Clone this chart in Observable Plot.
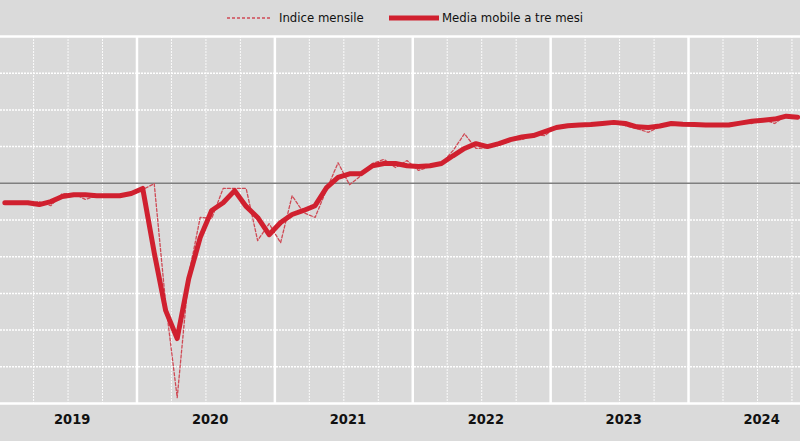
<!DOCTYPE html>
<html><head><meta charset="utf-8">
<script src="https://cdn.jsdelivr.net/npm/d3@7"></script>
<script src="https://cdn.jsdelivr.net/npm/@observablehq/plot@0.6"></script>
<style>
html,body{margin:0;padding:0;background:#dadada;width:800px;height:441px;overflow:hidden;font-family:"Liberation Sans Narrow","Arial Narrow","DejaVu Sans Condensed",sans-serif;}
#legend{height:35px;position:relative;font-size:13px;color:#111;}
#legend .item{position:absolute;top:0;height:35px;display:flex;align-items:center;}
#legend svg{display:block;}
#chart svg{display:block;}
</style></head><body>
<div id="legend">
  <div class="item" style="left:227px"><svg width="44" height="8"><line x1="0" y1="4" x2="44" y2="4" stroke="#cf4a55" stroke-width="1.3" stroke-dasharray="3,2"/></svg><span style="margin-left:8px">Indice mensile</span></div>
  <div class="item" style="left:389px"><svg width="50" height="8"><line x1="0" y1="4" x2="50" y2="4" stroke="#d0202f" stroke-width="5"/></svg><span style="margin-left:3px">Media mobile a tre mesi</span></div>
</div>
<div id="chart"></div>
<script>
// Categories
const startYear = 2019;
const years = [2019, 2020, 2021, 2022, 2023, 2024];
const seriesNames = ["Indice mensile", "Media mobile a tre mesi"];
// Monthly index (Jan 2019 .. Oct 2024), base = 100
const monthly = [
  94.7, 94.7, 94.5, 95.0, 93.9, 97.2, 97.2, 95.6, 96.6, 96.6, 96.9, 96.9,
  98.3, 99.9, 67.2, 41.6, 74.9, 90.7, 90.4, 98.6, 98.6, 98.6, 84.4, 89.0,
  83.8, 96.6, 92.0, 90.7, 98.3, 105.6, 99.6, 102.1, 105.4, 106.5, 104.3, 106.2,
  103.5, 104.6, 105.4, 108.9, 113.5, 109.5, 109.7, 110.8, 111.9, 111.9, 113.3, 113.0,
  115.5, 115.7, 116.0, 116.3, 116.5, 116.5, 115.7, 114.9, 113.9, 115.4, 116.4, 116.0,
  116.0, 115.9, 116.0, 116.3, 116.5, 116.3, 117.4, 116.3, 118.6, 117.9
];
// Three-month moving average
const movingAvg = [
  94.7, 94.7, 94.7, 94.2, 95.0, 96.4, 96.9, 96.9, 96.6, 96.6, 96.6, 97.2,
  98.6, 81.1, 65.3, 57.7, 74.0, 85.2, 92.6, 94.7, 98.0, 93.7, 90.7, 86.0,
  89.3, 91.5, 92.6, 93.9, 98.8, 101.6, 102.6, 102.6, 104.8, 105.4, 105.4, 104.8,
  104.6, 104.8, 105.4, 107.5, 109.5, 110.8, 110.0, 110.8, 111.9, 112.6, 113.0, 114.1,
  115.2, 115.7, 115.9, 116.0, 116.3, 116.6, 116.3, 115.4, 115.2, 115.6, 116.3, 116.1,
  116.0, 115.9, 115.9, 115.9, 116.4, 116.9, 117.2, 117.5, 118.3, 118.0
];
const baseline = 100;
const yGrid = [50, 60, 70, 80, 90, 110, 120, 130];
const yDomain = [40, 140];

const data = monthly.map((v, i) => ({
  t: startYear + (i + 0.5) / 12,
  monthly: v,
  ma: movingAvg[i]
}));
const quarters = [];
years.forEach(y => [0.25, 0.5, 0.75].forEach(q => quarters.push(y + q)));
const yearBounds = years.slice(1);

const red = "#d0202f";
const chart = Plot.plot({
  width: 800,
  height: 406,
  marginTop: 1,
  marginBottom: 38,
  marginLeft: 0,
  marginRight: 0,
  style: {background: "transparent", fontFamily: "'Liberation Sans Narrow','Arial Narrow','DejaVu Sans Condensed',sans-serif", overflow: "visible"},
  x: {type: "linear", domain: [2019.0102, 2024.812], axis: null},
  y: {domain: yDomain, axis: null},
  marks: [
    Plot.ruleY(yGrid, {stroke: "white", strokeWidth: 1.5, strokeDasharray: "2,1"}),
    Plot.ruleX(quarters, {stroke: "white", strokeWidth: 1, strokeDasharray: "2,1", strokeOpacity: 0.85}),
    Plot.ruleX(yearBounds, {stroke: "white", strokeWidth: 2.5}),
    Plot.ruleY(yDomain, {stroke: "white", strokeWidth: 2.5}),
    Plot.ruleY([baseline], {stroke: "#7f7f7f", strokeWidth: 1.5}),
    Plot.line(data, {x: "t", y: "monthly", stroke: "#cf4a55", strokeWidth: 1.3, strokeDasharray: "3,2"}),
    Plot.line(data, {x: "t", y: "ma", stroke: red, strokeWidth: 5, strokeLinejoin: "round"}),
    Plot.text(years, {x: d => d + 0.53, y: yDomain[0], text: d => String(d), dy: 16, fontSize: 14.5, fontWeight: "bold", fill: "#111"})
  ]
});
document.getElementById("chart").appendChild(chart);
</script>
</body></html>
